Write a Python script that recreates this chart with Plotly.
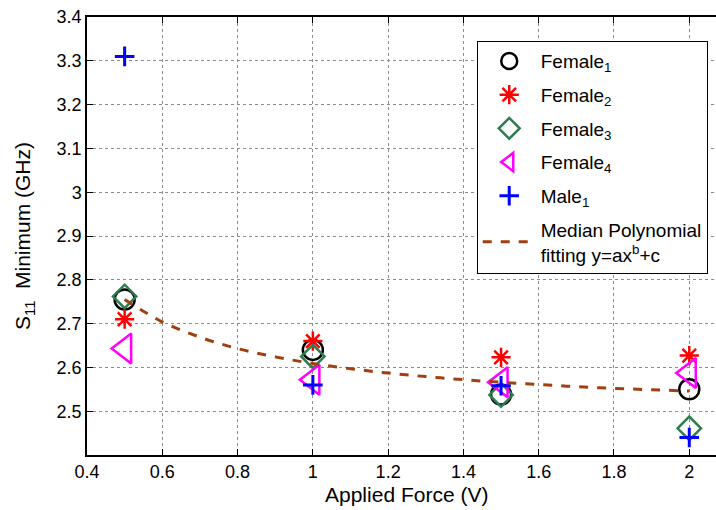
import plotly.graph_objects as go

force = [0.5, 1.0, 1.5, 2.0]
female1 = [2.755, 2.640, 2.538, 2.550]
female2 = [2.710, 2.660, 2.623, 2.627]
female3 = [2.762, 2.625, 2.537, 2.461]
female4 = [2.643, 2.572, 2.566, 2.587]
male1 = [3.310, 2.560, 2.558, 2.440]

fit_x = [0.5, 0.6, 0.7, 0.8, 0.9, 1.0, 1.1, 1.2, 1.3, 1.4, 1.5, 1.6, 1.7, 1.8, 1.9, 2.0]
fit_y = [2.755, 2.704, 2.669, 2.643, 2.624, 2.609, 2.597, 2.587, 2.579, 2.572,
         2.566, 2.561, 2.556, 2.552, 2.549, 2.546]

x_ticks = [0.4, 0.6, 0.8, 1.0, 1.2, 1.4, 1.6, 1.8, 2.0]
x_tick_labels = ["0.4", "0.6", "0.8", "1", "1.2", "1.4", "1.6", "1.8", "2"]
y_ticks = [2.5, 2.6, 2.7, 2.8, 2.9, 3.0, 3.1, 3.2, 3.3, 3.4]
y_tick_labels = ["2.5", "2.6", "2.7", "2.8", "2.9", "3", "3.1", "3.2", "3.3", "3.4"]

FONT = "Liberation Sans, Arial, Helvetica, sans-serif"

fig = go.Figure()
fig.add_trace(go.Scatter(x=force, y=female1, mode="markers", name="Female<sub>1</sub>",
                         legendgroup="g1",
                         marker=dict(symbol="circle-open", size=20, color="black",
                                     line=dict(width=2.5, color="black"))))
fig.add_trace(go.Scatter(x=force, y=female2, mode="markers", name="Female<sub>2</sub>",
                         legendgroup="g2",
                         marker=dict(symbol="asterisk-open", size=16, color="red",
                                     line=dict(width=2.5, color="red"))))
fig.add_trace(go.Scatter(x=force, y=female3, mode="markers", name="Female<sub>3</sub>",
                         legendgroup="g3",
                         marker=dict(symbol="diamond-open", size=18, color="rgb(46,125,80)",
                                     line=dict(width=2.5, color="rgb(46,125,80)"))))
fig.add_trace(go.Scatter(x=force, y=female4, mode="markers", name="Female<sub>4</sub>",
                         legendgroup="g4",
                         marker=dict(symbol="triangle-left-open", size=26, color="magenta",
                                     line=dict(width=2.5, color="magenta"))))
fig.add_trace(go.Scatter(x=force, y=male1, mode="markers", name="Male<sub>1</sub>",
                         legendgroup="g5",
                         marker=dict(symbol="cross-thin-open", size=14, color="blue",
                                     line=dict(width=3, color="blue"))))
fig.add_trace(go.Scatter(x=fit_x, y=fit_y, mode="lines", line_shape="spline",
                         legendgroup="g6",
                         name="Median Polynomial<br>fitting y=ax<sup>b</sup>+c",
                         line=dict(color="rgb(160,64,16)", width=3, dash="dash")))

fig.add_annotation(x=1.25, xref="x", y=-0.06, yref="paper", yanchor="top",
                   text="Applied Force (V)", showarrow=False,
                   font=dict(family=FONT, size=21, color="black"))

fig.update_layout(
    width=716, height=510,
    margin=dict(l=87, r=0, t=17, b=55),
    paper_bgcolor="white", plot_bgcolor="white",
    font=dict(family=FONT, size=18, color="black"),
    showlegend=True,
    legend=dict(x=0.6196, y=0.945, xanchor="left", yanchor="top",
                bgcolor="white", bordercolor="black", borderwidth=1,
                font=dict(family=FONT, size=19, color="black"),
                itemwidth=53, tracegroupgap=6),
    xaxis=dict(range=[0.4, 2.071], tickvals=x_ticks, ticktext=x_tick_labels,
               showgrid=True, gridcolor="rgb(140,140,140)", griddash="dot", gridwidth=1,
               showline=True, linecolor="black", linewidth=1.5, mirror="ticks",
               ticks="inside", ticklen=6, tickcolor="black", tickwidth=1,
               zeroline=False, tickfont=dict(size=18)),
    yaxis=dict(range=[2.4, 3.4], tickvals=y_ticks, ticktext=y_tick_labels,
               showgrid=True, gridcolor="rgb(140,140,140)", griddash="dot", gridwidth=1,
               showline=True, linecolor="black", linewidth=1.5, mirror=False,
               ticks="inside", ticklen=6, tickcolor="black", tickwidth=1,
               zeroline=False, tickfont=dict(size=18),
               title=dict(text="S<sub>11</sub>  Minimum (GHz)", font=dict(size=21), standoff=20)),
)

fig.write_html("out.html")
